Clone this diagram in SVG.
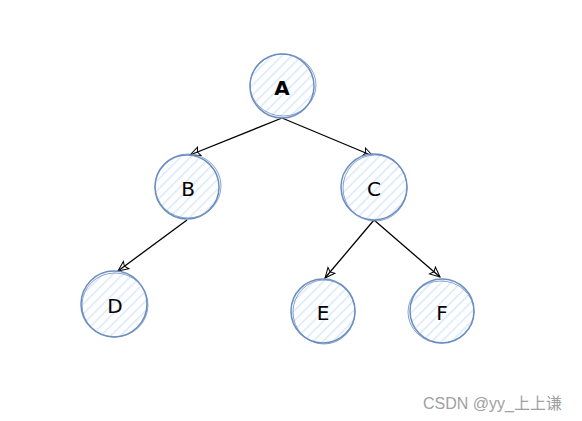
<svg xmlns="http://www.w3.org/2000/svg" width="582" height="421" viewBox="0 0 582 421">
<defs>
<pattern id="hatch" patternUnits="userSpaceOnUse" width="7" height="7" patternTransform="rotate(45)">
<rect width="7" height="7" fill="#ffffff"/>
<line x1="0" y1="0" x2="0" y2="7" stroke="#dae8fc" stroke-width="3"/>
</pattern>
<marker id="arr" viewBox="0 0 12 12" refX="11" refY="6" markerWidth="12" markerHeight="12" markerUnits="userSpaceOnUse" orient="auto">
<path d="M1,1.5 L11,6 L1,10.5 L3,6 Z" fill="none" stroke="#000" stroke-width="1"/>
</marker>
<style>
.n circle{fill:url(#hatch);stroke:#6c8ebf;stroke-width:1.5}
.n .o{fill:none;stroke:#6c8ebf;stroke-width:1;opacity:0.8}
.n text{font-family:"DejaVu Sans","Liberation Sans",sans-serif;font-size:20px;text-anchor:middle;fill:#000}
.e line{stroke:#000;stroke-width:1.3;marker-end:url(#arr)}
</style>
</defs>
<rect width="582" height="421" fill="#ffffff"/>
<g id="connectors" class="e">
<line x1="282" y1="118" x2="190" y2="155"/>
<line x1="282" y1="118" x2="373" y2="156"/>
<line x1="187" y1="220" x2="118" y2="271"/>
<line x1="374" y1="220" x2="325" y2="278"/>
<line x1="374" y1="220" x2="440" y2="277"/>
</g>
<g id="node-A" class="n"><circle cx="282" cy="86" r="32"/><ellipse class="o" cx="283" cy="85" rx="33" ry="31"/><text x="282" y="95" font-weight="bold">A</text></g>
<g id="node-B" class="n"><circle cx="187" cy="187" r="32"/><ellipse class="o" cx="188" cy="186" rx="33" ry="32"/><text x="188" y="196">B</text></g>
<g id="node-C" class="n"><circle cx="374" cy="187" r="33"/><ellipse class="o" cx="375" cy="188" rx="32" ry="33"/><text x="374" y="196">C</text></g>
<g id="node-D" class="n"><circle cx="114" cy="304" r="33"/><ellipse class="o" cx="115" cy="305" rx="33" ry="32"/><text x="115" y="313">D</text></g>
<g id="node-E" class="n"><circle cx="323" cy="311" r="32"/><ellipse class="o" cx="324" cy="312" rx="31" ry="32"/><text x="323" y="320">E</text></g>
<g id="node-F" class="n"><circle cx="442" cy="311" r="32"/><ellipse class="o" cx="441" cy="312" rx="33" ry="31"/><text x="442" y="320">F</text></g>
<text x="423" y="409" font-family="'Liberation Sans','Noto Sans CJK SC',sans-serif" font-size="16" fill="#a0a0a0">CSDN @yy_上上谦</text>
</svg>
